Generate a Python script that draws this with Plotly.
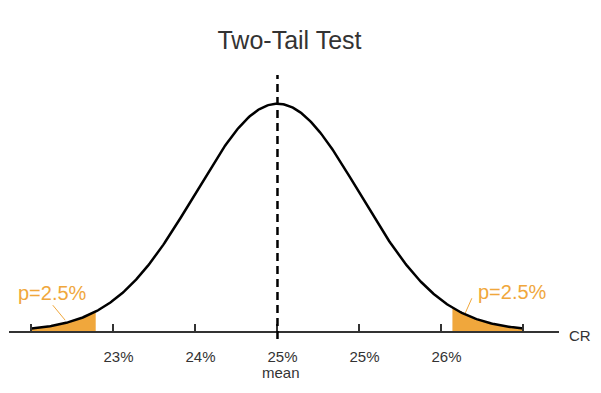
import numpy as np
import plotly.graph_objects as go

# ---- data ----
mean_cr = 24.6          # mean conversion rate (%)
sd_cr = 0.6             # standard deviation (%)
tick_values = [22.8, 23.4, 24.0, 24.6, 25.2, 25.8, 26.4]
tick_labels = ["", "23%", "24%", "25%", "25%", "26%", ""]
mean_label = "mean"
left_cut = 23.27        # left critical value (%)
right_cut = 25.88       # right critical value (%)
tail_labels = ["p=2.5%", "p=2.5%"]
curve_lo, curve_hi = 22.8, 26.4

ORANGE = "#F0A73C"
TXT = "#333333"
FONT = "Liberation Sans, Arial"

def density(x):
    return np.exp(-0.5 * ((x - mean_cr) / sd_cr) ** 2)

xs = np.linspace(curve_lo, curve_hi, 400)
xl = np.linspace(curve_lo, left_cut, 80)
xr = np.linspace(right_cut, curve_hi, 80)

fig = go.Figure()
fig.add_trace(go.Scatter(x=xl, y=density(xl), mode="lines", line=dict(width=0),
                         fill="tozeroy", fillcolor=ORANGE, hoverinfo="skip"))
fig.add_trace(go.Scatter(x=xr, y=density(xr), mode="lines", line=dict(width=0),
                         fill="tozeroy", fillcolor=ORANGE, hoverinfo="skip"))
fig.add_trace(go.Scatter(x=xs, y=density(xs), mode="lines",
                         line=dict(color="black", width=2.5), hoverinfo="skip"))

# mean dashed line
fig.add_shape(type="line", xref="x", yref="paper", x0=mean_cr, x1=mean_cr,
              y0=-0.03, y1=0.952, line=dict(color="black", width=2.5, dash="8px,5px"))

# leader lines for tail labels
fig.add_shape(type="line", xref="x", yref="y",
              x0=mean_cr - 2.74 * sd_cr, y0=0.1135, x1=mean_cr - 2.59 * sd_cr, y1=0.048,
              line=dict(color=ORANGE, width=1))
fig.add_shape(type="line", xref="x", yref="y",
              x0=mean_cr + 2.37 * sd_cr, y0=0.144, x1=mean_cr + 2.29 * sd_cr, y1=0.079,
              line=dict(color=ORANGE, width=1))

fig.add_annotation(x=mean_cr - 2.74 * sd_cr, y=0.166, text=tail_labels[0], showarrow=False,
                   font=dict(size=20, color=ORANGE, family=FONT),
                   xanchor="center", yanchor="middle")
fig.add_annotation(x=mean_cr + 2.87 * sd_cr, y=0.170, text=tail_labels[1], showarrow=False,
                   font=dict(size=20, color=ORANGE, family=FONT),
                   xanchor="center", yanchor="middle")

fig.add_annotation(x=mean_cr, y=0, text=mean_label, showarrow=False,
                   xanchor="center", yanchor="middle", xshift=4, yshift=-41,
                   font=dict(size=15, color=TXT, family=FONT))

fig.add_annotation(xref="paper", yref="y", x=1, y=0, text="CR", showarrow=False,
                   xanchor="left", yanchor="middle", xshift=8, yshift=-4,
                   font=dict(size=15, color=TXT, family=FONT))

x0 = mean_cr - 3.274 * sd_cr
x1 = mean_cr + 3.433 * sd_cr

fig.update_layout(
    width=593, height=385,
    margin=dict(l=1, r=42, t=54, b=62),
    paper_bgcolor="white", plot_bgcolor="white",
    showlegend=False,
    title=dict(text="Two-Tail Test", x=0.4747, xref="container", xanchor="center",
               y=0.9169, yref="container", yanchor="middle",
               font=dict(size=25, color=TXT, family=FONT)),
    xaxis=dict(range=[x0, x1], showgrid=False, zeroline=False,
               showline=True, linecolor=TXT, linewidth=2,
               ticks="inside", ticklen=7, tickwidth=2, tickcolor=TXT,
               tickvals=tick_values, ticktext=tick_labels,
               ticklabelstandoff=11, ticklabelshift=5,
               tickfont=dict(size=15, color=TXT, family=FONT)),
    yaxis=dict(range=[0, 1.1834], visible=False, showgrid=False, zeroline=False),
)

fig.write_html("out.html")
